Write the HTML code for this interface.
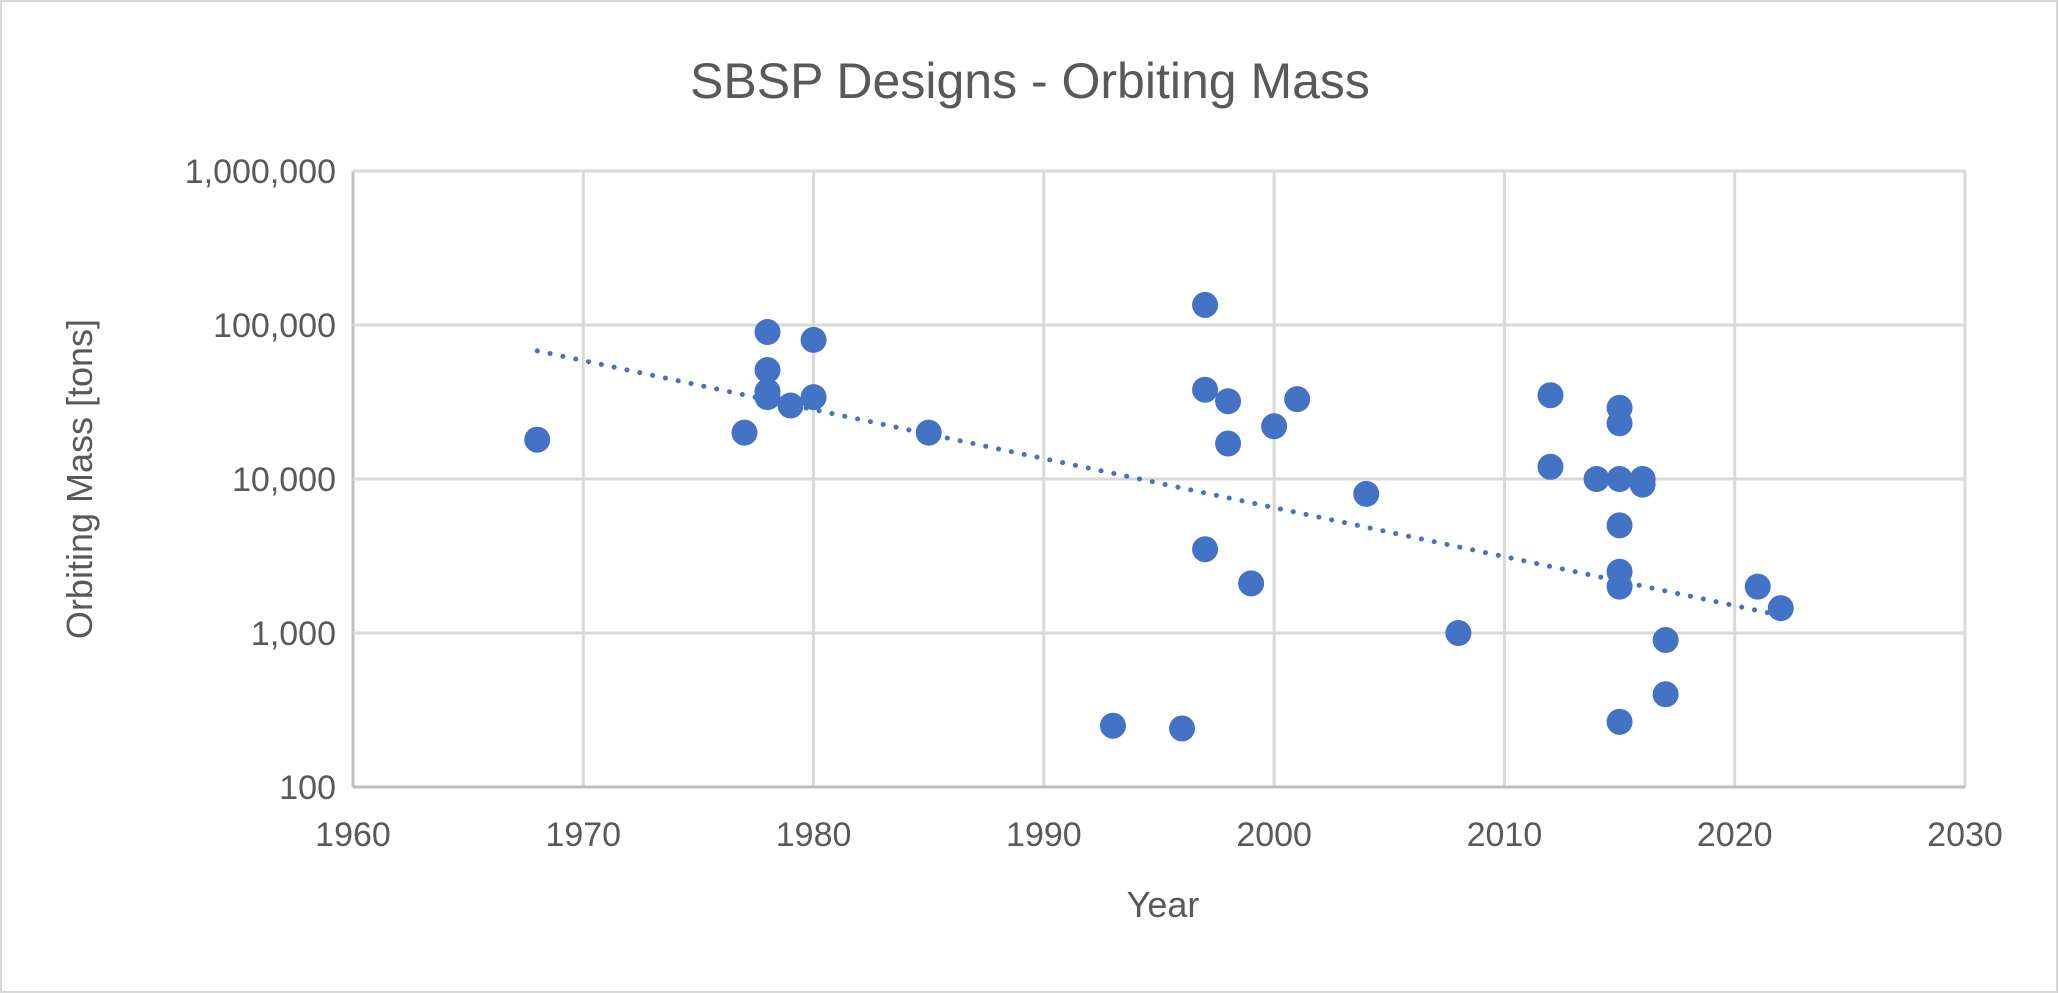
<!DOCTYPE html>
<html><head><meta charset="utf-8"><style>
html,body{margin:0;padding:0;background:#fff}
svg{display:block;font-family:"Liberation Sans",sans-serif}
</style></head><body>
<svg id="chart" width="2059" height="993">
<rect x="1" y="1" width="2056" height="991" fill="#fff" stroke="#d9d9d9" stroke-width="2"/>
<text x="1030" y="98" text-anchor="middle" font-size="50" fill="#595959">SBSP Designs - Orbiting Mass</text>
<g id="grid"></g><g id="ticks"></g><g id="trend"></g><g id="pts"></g>
<text x="1163" y="917" text-anchor="middle" font-size="36" fill="#595959">Year</text>
<text transform="translate(92,479) rotate(-90)" text-anchor="middle" font-size="36" fill="#595959">Orbiting Mass [tons]</text>
</svg>
<script>
const years=[1968,1977,1978,1978,1978,1978,1979,1980,1980,1985,1993,1996,1997,1997,1997,1998,1998,1999,2000,2001,2004,2008,2012,2012,2014,2015,2015,2015,2015,2015,2015,2015,2016,2016,2017,2017,2021,2022];
const masses=[18000,20000,90000,51000,37000,34000,30000,80000,34000,20000,250,240,135000,38000,3500,32000,17000,2100,22000,33000,8000,1000,35000,12000,10000,29000,23000,10000,5000,2500,2000,265,10000,9200,900,400,2000,1450];
const trendYears=[1968,2022];
const trendValues=[68000,1300];
const xTicks=[1960,1970,1980,1990,2000,2010,2020,2030];
const yTicks=[100,1000,10000,100000,1000000];
const X0=353,X1=1965,Y0=787,Y1=171;
const sx=v=>X0+(v-1960)/70*(X1-X0);
const sy=v=>Y0-(Math.log10(v)-2)/4*(Y0-Y1);
const NS="http://www.w3.org/2000/svg";
function mk(t,a,p){const e=document.createElementNS(NS,t);for(const k in a)e.setAttribute(k,a[k]);p.appendChild(e);return e;}
const grid=document.getElementById('grid'),ticks=document.getElementById('ticks');
xTicks.forEach(t=>{
 const l=mk('line',{x1:sx(t),x2:sx(t),y1:Y1,y2:Y0,stroke:t===1960?'#bfbfbf':'#d9d9d9','stroke-width':3},grid);
 
 
 const tx=mk('text',{x:sx(t),y:846,'text-anchor':'middle','font-size':34,fill:'#595959'},ticks);
 tx.textContent=t;
 
 
});
yTicks.forEach(t=>{
 const l=mk('line',{x1:X0,x2:X1,y1:sy(t),y2:sy(t),stroke:t===100?'#bfbfbf':'#d9d9d9','stroke-width':3},grid);
 
 
 const tx=mk('text',{x:336,y:sy(t)+12,'text-anchor':'end','font-size':34,fill:'#595959'},ticks);
 tx.textContent=t.toLocaleString('en-US');
 
 
});
const tr=mk('line',{x1:sx(trendYears[0]),y1:sy(trendValues[0]),x2:sx(trendYears[1]),y2:sy(trendValues[1]),stroke:'#4472c4','stroke-width':5,'stroke-dasharray':'0.1 13','stroke-linecap':'round'},document.getElementById('trend'));


const pts=document.getElementById('pts');
years.forEach((x,i)=>{
 const c=mk('circle',{cx:sx(x),cy:sy(masses[i]),r:13,fill:'#4472c4'},pts);
 
 
});
</script>
</body></html>
